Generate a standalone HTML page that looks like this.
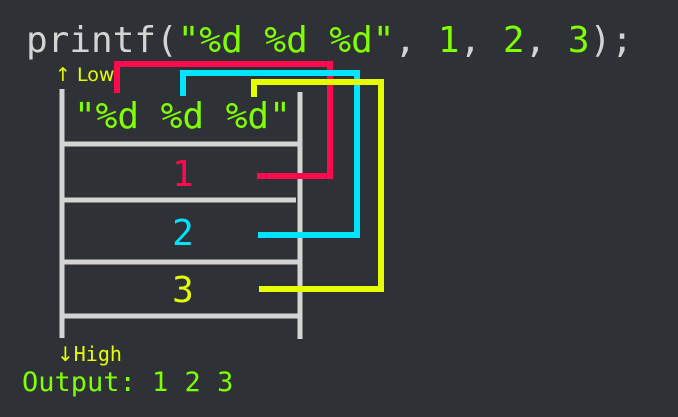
<!DOCTYPE html>
<html><head><style>
html,body{margin:0;padding:0;background:#2e3236;}
svg{display:block}
text{font-family:"DejaVu Sans Mono","Liberation Mono",monospace;}
</style></head><body>
<svg width="678" height="417" viewBox="0 0 678 417" xmlns="http://www.w3.org/2000/svg">
<rect width="678" height="417" fill="#2e3236"/>
<text x="26" y="52" font-size="36" fill="#d4d4d4">printf(<tspan fill="#80ff00">"%d %d %d"</tspan>, <tspan fill="#80ff00">1</tspan>, <tspan fill="#80ff00">2</tspan>, <tspan fill="#80ff00">3</tspan>);</text>
<g stroke="#d4d4d4" stroke-width="5" fill="none">
<line x1="62" y1="89" x2="62" y2="338"/>
<line x1="300" y1="92" x2="300" y2="339"/>
<line x1="62" y1="144" x2="300" y2="144"/>
<line x1="62" y1="200" x2="296" y2="200"/>
<line x1="64" y1="262" x2="300" y2="262"/>
<line x1="62" y1="316" x2="300" y2="316"/>
</g>
<g fill="none" stroke-width="6">
<polyline stroke="#ff0a4f" points="117,93 117,64 330,64 330,176 257,176"/>
<polyline stroke="#00e5ff" points="183,96 183,73 357,73 357,235 258,235"/>
<polyline stroke="#e5ff00" points="254,97 254,82 381,82 381,289 259,289"/>
</g>
<text x="74" y="128" font-size="36" fill="#80ff00">"%d %d %d"</text>
<text x="183" y="186" font-size="36" fill="#ff0a4f" text-anchor="middle">1</text>
<text x="183" y="245" font-size="36" fill="#00e5ff" text-anchor="middle">2</text>
<text x="183" y="302" font-size="36" fill="#e5ff00" text-anchor="middle">3</text>
<text x="55" y="81" font-size="19" fill="#e5ff00" style="font-family:'DejaVu Sans','Liberation Sans',sans-serif">↑ Low</text>
<text x="57" y="361" font-size="20" fill="#e5ff00"><tspan style="font-family:'DejaVu Sans',sans-serif">↓</tspan>High</text>
<text x="22" y="391" font-size="27" fill="#80ff00">Output: 1 2 3</text>
</svg>
</body></html>
